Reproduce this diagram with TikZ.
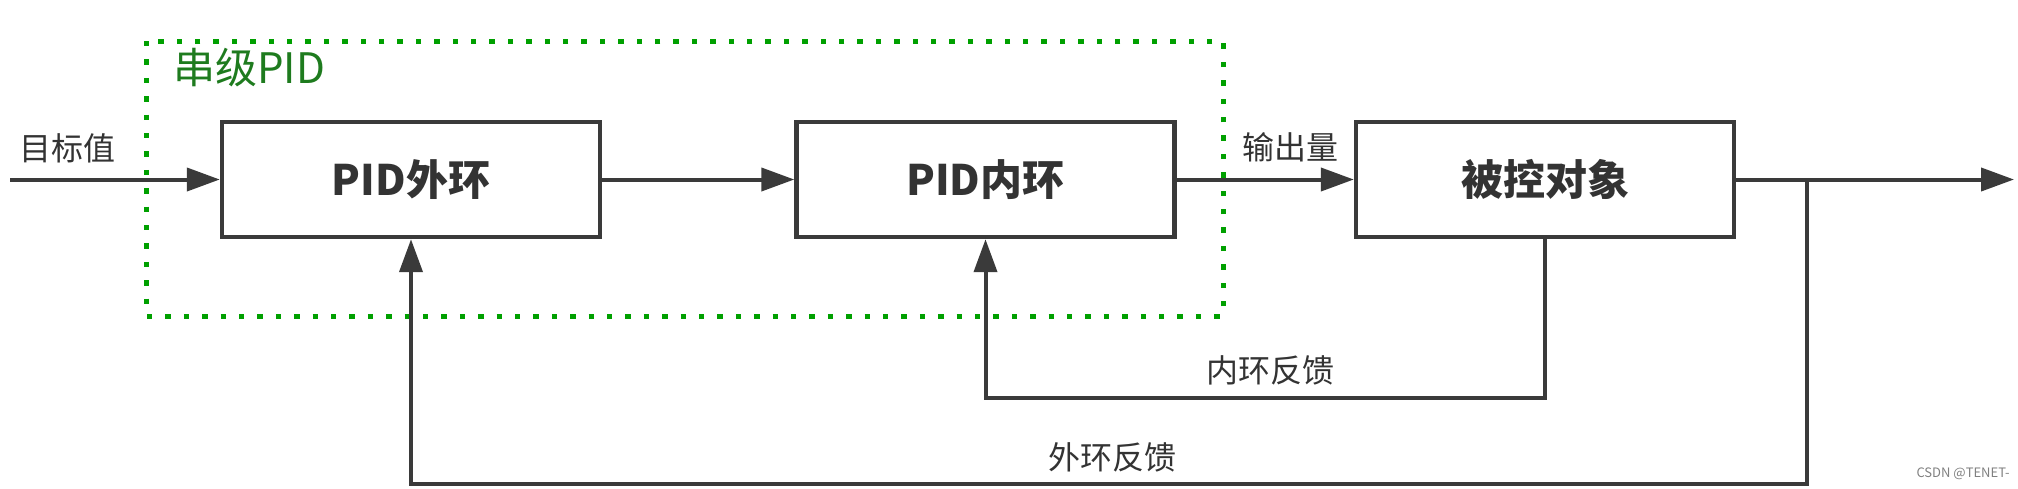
\documentclass[tikz,border=0pt]{standalone}
\usepackage{fontspec}
\setmainfont{Noto Sans CJK SC}
\usetikzlibrary{arrows.meta}
\definecolor{linegray}{HTML}{3A3A3A}
\definecolor{textgray}{HTML}{333333}
\definecolor{dotgreen}{HTML}{00A000}
\definecolor{labgreen}{HTML}{1E7B1E}
\tikzset{
  blockbox/.style={draw=linegray, line width=2.2pt, minimum width=189pt, minimum height=57.5pt,
    inner sep=0pt, font=\fontsize{21}{24}\selectfont\bfseries, text=textgray},
  conn/.style={draw=linegray, line width=2pt, -{Triangle[length=16.5pt,width=11.5pt]}},
  lab/.style={font=\fontsize{16}{18}\selectfont, text=textgray, inner sep=0pt},
  groupbox/.style={draw=dotgreen, line width=2.5pt, dash pattern=on 2.7pt off 6.5pt},
}
\begin{document}
\begin{tikzpicture}[x=0.5pt,y=-0.5pt]
\useasboundingbox (0,0) rectangle (2018,488);
% group frame
\draw[groupbox] (146,41) rectangle (1223,316);
\node[font=\fontsize{21}{24}\selectfont, text=labgreen, inner sep=0pt] (grp) at (249,68) {串级PID};
% blocks
\node[blockbox] (b1) at (411,179.5) {PID外环};
\node[blockbox] (b2) at (985.5,179.5) {PID内环};
\node[blockbox] (b3) at (1545,179.5) {被控对象};
% coordinates
\coordinate (in) at (10,179.5);
\coordinate (out) at (2014,179.5);
\coordinate (br) at (1807,179.5);
\coordinate (obr) at (1807,484);
\coordinate (obl) at (b1.south |- obr);
\coordinate (ibr) at (b3.south |- 0,398);
\coordinate (ibl) at (b2.south |- 0,398);
% forward path
\draw[conn] (in) -- (b1.west);
\draw[conn] (b1.east) -- (b2.west);
\draw[conn] (b2.east) -- (b3.west);
\draw[conn] (b3.east) -- (out);
% feedback
\draw[conn] (b3.south) -- (ibr) -- (ibl) -- (b2.south);
\draw[conn] (br) -- (obr) -- (obl) -- (b1.south);
% labels
\node[lab] (l1) at (67,148) {目标值};
\node[lab] (l2) at (1290,147) {输出量};
\node[lab] (l3) at (1270,370) {内环反馈};
\node[lab] (l4) at (1112,457) {外环反馈};
\node[font=\fontsize{6.5}{7}\selectfont, text=gray, inner sep=0pt] (wm) at (1963,474) {CSDN @TENET-};
\end{tikzpicture}
\end{document}
